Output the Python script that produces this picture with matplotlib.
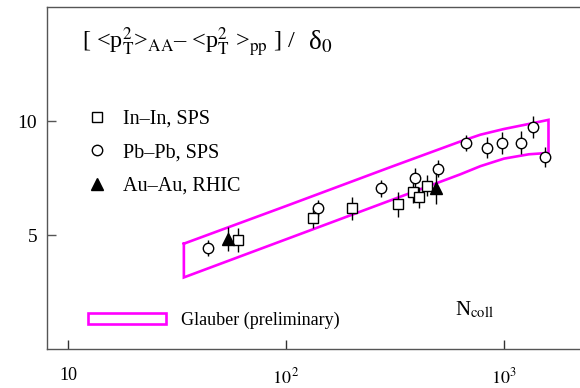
import matplotlib
matplotlib.use("Agg")
import matplotlib.pyplot as plt
from matplotlib.patches import Patch
from matplotlib.lines import Line2D

plt.rcParams['font.family'] = ['Liberation Serif', 'DejaVu Serif']
plt.rcParams['mathtext.fontset'] = 'stix'

# In-In, SPS
inin_n = [60, 133, 201, 327, 383, 408, 443]
inin_y = [4.78, 5.74, 6.17, 6.35, 6.87, 6.65, 7.17]
inin_e = [0.52, 0.43, 0.50, 0.54, 0.47, 0.45, 0.47]

# Pb-Pb, SPS
pbpb_n = [44, 140, 273, 391, 498, 670, 836, 979, 1197, 1359, 1542]
pbpb_y = [4.43, 6.17, 7.04, 7.52, 7.91, 9.04, 8.83, 9.04, 9.04, 9.74, 8.43]
pbpb_e = [0.37, 0.35, 0.37, 0.43, 0.36, 0.36, 0.47, 0.47, 0.50, 0.47, 0.43]

# Au-Au, RHIC
auau_n = [54, 487]
auau_y = [4.83, 7.04]
auau_e = [0.52, 0.70]

# Glauber (preliminary) band
band_n = [34, 100, 300, 630, 780, 1000, 1300, 1600]
band_hi = [4.62, 6.27, 7.97, 9.10, 9.40, 9.65, 9.87, 10.05]
band_lo = [3.14, 4.81, 6.51, 7.66, 8.02, 8.35, 8.54, 8.60]

W, H = 580, 388
fig = plt.figure(figsize=(W / 100, H / 100), dpi=100)
ax = fig.add_axes([47 / W, 1 - 349 / H, 533 / W, 342 / H])
ax.set_xscale('log')
ax.set_xlim(8.01, 2232)
ax.set_ylim(0, 15)

mag = '#ff00ff'
poly_x = band_n + band_n[::-1] + [band_n[0]]
poly_y = band_hi + band_lo[::-1] + [band_hi[0]]
ax.plot(poly_x, poly_y, color=mag, lw=1.9, solid_joinstyle='miter', zorder=2)

ms = 7.2
ax.errorbar(inin_n, inin_y, yerr=inin_e, fmt='s', ms=ms, mfc='white', mec='black',
            mew=1.0, ecolor='black', elinewidth=1.0, capsize=0, zorder=3)
ax.errorbar(pbpb_n, pbpb_y, yerr=pbpb_e, fmt='o', ms=ms + 0.3, mfc='white', mec='black',
            mew=1.0, ecolor='black', elinewidth=1.0, capsize=0, zorder=3)
ax.errorbar(auau_n, auau_y, yerr=auau_e, fmt='^', ms=ms + 1, mfc='black', mec='black',
            mew=1.0, ecolor='black', elinewidth=1.0, capsize=0, zorder=4)

ax.spines['right'].set_visible(False)
for s in ['left', 'top', 'bottom']:
    ax.spines[s].set_color('#555555')
    ax.spines[s].set_linewidth(1.0)

ax.set_xticks([10, 100, 1000])
ax.set_xticklabels(['10', r'$10^{\,2}$', r'$10^{3}$'])
ax.minorticks_off()
ax.set_yticks([5, 10])
ax.set_yticklabels(['5', '10'])
ax.tick_params(axis='x', direction='in', length=6.5, width=1, color='#333333',
               labelsize=13, pad=13)
ax.tick_params(axis='y', direction='in', length=6.5, width=1, color='#555555',
               labelsize=14, pad=7)

leg1 = ax.legend([Line2D([], [], ls='none', marker='s', ms=7, mfc='white', mec='black'),
                  Line2D([], [], ls='none', marker='o', ms=7.5, mfc='white', mec='black'),
                  Line2D([], [], ls='none', marker='^', ms=8.5, mfc='black', mec='black')],
                 ['In–In, SPS', 'Pb–Pb, SPS', 'Au–Au, RHIC'],
                 loc='upper left', bbox_to_anchor=(0.075, 0.700), frameon=False,
                 fontsize=14.5, handlelength=1.0, handletextpad=0.8, labelspacing=0.72,
                 borderpad=0, borderaxespad=0)
ax.add_artist(leg1)
ax.legend([Patch(facecolor='none', edgecolor=mag, lw=1.9)], ['Glauber (preliminary)'],
          loc='upper left', bbox_to_anchor=(0.077, 0.11), frameon=False, fontsize=13,
          handlelength=4.3, handleheight=0.55, handletextpad=0.83, borderpad=0, borderaxespad=0)

ax.text(0.066, 0.877,
        r'[ <p$_\mathrm{T}^{2}$>$_\mathrm{AA}$– <p$_\mathrm{T}^{2}$ >$_\mathrm{pp}$ ] /',
        transform=ax.transAxes, fontsize=17.5, ha='left', va='baseline')
ax.text(0.489, 0.877, r'δ$_0$', transform=ax.transAxes, fontsize=19.5,
        ha='left', va='baseline')
ax.text(0.765, 0.0994, r'N$_\mathrm{coll}$', transform=ax.transAxes,
        fontsize=15, ha='left', va='baseline')

fig.savefig('out.png', dpi=100)
